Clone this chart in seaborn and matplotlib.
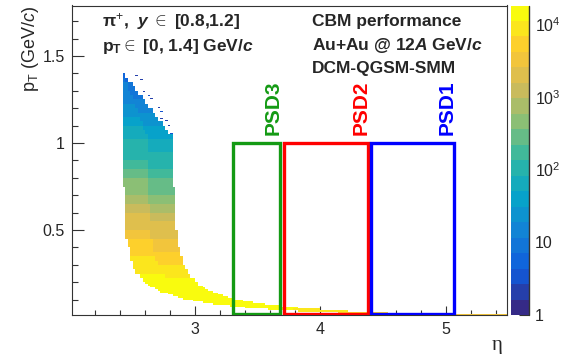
import numpy as np
import pandas as pd
import matplotlib
matplotlib.use("Agg")
import matplotlib.pyplot as plt
import seaborn as sns
from matplotlib.colors import LinearSegmentedColormap, LogNorm
from matplotlib.patches import Rectangle
from matplotlib.ticker import MultipleLocator, NullFormatter, LogLocator

# pT bands of the histogram (GeV/c), the eta range each band covers and the counts per cell
# (counts given separately for the low-eta and the high-eta half of every band)
row_pt_edges = [0.01, 0.02, 0.03, 0.04, 0.05, 0.06, 0.07, 0.08, 0.09, 0.10,
                0.11, 0.12, 0.13, 0.14, 0.15, 0.16, 0.17, 0.18, 0.19, 0.20,
                0.225, 0.25, 0.275, 0.30, 0.325, 0.35, 0.375, 0.40,
                0.45, 0.50, 0.55, 0.60, 0.65, 0.70, 0.75, 0.80, 0.85, 0.90, 0.95, 1.00,
                1.025, 1.05, 1.075, 1.10, 1.125, 1.15, 1.175, 1.20,
                1.225, 1.25, 1.275, 1.30, 1.325, 1.35, 1.375, 1.40]
row_eta_lo = [4.45, 4.14, 3.82, 3.58, 3.41, 3.27, 3.15, 3.06, 2.98,
              2.91, 2.86, 2.81, 2.77, 2.73, 2.70, 2.68, 2.65, 2.63, 2.61,
              2.59, 2.56, 2.53, 2.51, 2.50, 2.49, 2.48, 2.47,
              2.46, 2.45, 2.445, 2.44, 2.435, 2.43, 2.43, 2.425, 2.425, 2.42, 2.42, 2.42,
              2.415, 2.415, 2.415, 2.415, 2.415, 2.415, 2.415, 2.415,
              2.415, 2.415, 2.415, 2.415, 2.415, 2.415, 2.415, 2.415]
row_eta_hi = [5.50, 4.54, 4.22, 3.99, 3.81, 3.67, 3.56, 3.46, 3.38,
              3.32, 3.26, 3.21, 3.17, 3.14, 3.11, 3.08, 3.06, 3.03, 3.02,
              2.99, 2.96, 2.93, 2.915, 2.90, 2.89, 2.88, 2.87,
              2.86, 2.85, 2.845, 2.84, 2.835, 2.83, 2.83, 2.825, 2.825, 2.82, 2.82, 2.82,
              2.82, 2.81, 2.784, 2.758, 2.732, 2.706, 2.679, 2.653,
              2.627, 2.601, 2.574, 2.548, 2.522, 2.496, 2.469, 2.443]
row_counts_left = [3500, 6000, 9500, 12500, 14500, 15500, 16000, 16000, 16000,
                   16000, 16000, 15500, 15500, 15000, 15000, 14500, 14500, 14000, 14000,
                   14300, 12700, 11000, 9700, 8300, 7000, 6000, 5200,
                   5000, 3600, 2500, 1700, 1150, 770, 520, 360, 250, 180, 130, 96,
                   83, 71, 60, 51, 43, 36, 30, 25,
                   22, 18, 16, 14, 13, 12, 10, 9]
row_counts_right = [3000, 5000, 8000, 11000, 13500, 15000, 15500, 15500, 15500,
                    15500, 15500, 15000, 15000, 14500, 14500, 14000, 14000, 13500, 13000,
                    11400, 10100, 8800, 7700, 6600, 5600, 4800, 4100,
                    3400, 2400, 1700, 1100, 760, 510, 340, 240, 170, 120, 88, 64,
                    54, 46, 39, 33, 28, 23, 20, 17,
                    14, 12, 11, 9, 8, 8, 7, 6]

# isolated low-count cells above the high-pT edge
dot_eta = [2.53, 2.56, 2.59, 2.63, 2.65, 2.70, 2.72, 2.73, 2.76, 2.79, 2.81]
dot_pt = [1.385, 1.363, 1.296, 1.273, 1.258, 1.204, 1.181, 1.143, 1.125, 1.100, 1.050]
dot_counts = [2, 2, 2, 3, 2, 2, 3, 2, 2, 2, 3]

# PSD module acceptance
psd_names = ["PSD3", "PSD2", "PSD1"]
psd_eta_lo = [3.30, 3.705, 4.40]
psd_eta_hi = [3.68, 4.38, 5.065]
psd_pt_top = 1.0
psd_colors = ["#149a14", "#ff0000", "#0000ff"]

# ROOT kBird palette
bird = [(0.2082, 0.1664, 0.5293), (0.0592, 0.3599, 0.8684), (0.0780, 0.5041, 0.8385),
        (0.0232, 0.6419, 0.7914), (0.1802, 0.7178, 0.6425), (0.5301, 0.7492, 0.4662),
        (0.8186, 0.7328, 0.3499), (0.9956, 0.7862, 0.1968), (0.9764, 0.9832, 0.0539)]

eta_edges = np.round(np.arange(2.0, 5.5 + 1e-9, 0.02), 4)
pt_edges = np.round(np.arange(0.0, 1.8 + 1e-9, 0.005), 4)
eta_c = 0.5 * (eta_edges[:-1] + eta_edges[1:])
pt_c = 0.5 * (pt_edges[:-1] + pt_edges[1:])

# expand each band into histogram cells
parts = []
for i in range(len(row_counts_left)):
    lo, hi = row_eta_lo[i], row_eta_hi[i]
    ps = pt_c[(pt_c > row_pt_edges[i]) & (pt_c < row_pt_edges[i + 1])]
    es = eta_c[(eta_c >= lo) & (eta_c <= hi)]
    ee, pp = np.meshgrid(es, ps)
    ee, pp = ee.ravel(), pp.ravel()
    w = np.where(ee < 0.5 * (lo + hi), row_counts_left[i], row_counts_right[i])
    parts.append(pd.DataFrame({"eta": ee, "pt": pp, "w": w}))
parts.append(pd.DataFrame({"eta": dot_eta, "pt": dot_pt, "w": dot_counts}))
cells = pd.concat(parts, ignore_index=True)

sns.set_style("ticks", {"xtick.direction": "in", "ytick.direction": "in"})
plt.rcParams["font.family"] = ["Liberation Sans", "DejaVu Sans"]
plt.rcParams["mathtext.fontset"] = "custom"
plt.rcParams["mathtext.rm"] = "Liberation Sans"
plt.rcParams["mathtext.it"] = "Liberation Sans:italic"
plt.rcParams["mathtext.bf"] = "Liberation Sans:bold"
plt.rcParams["mathtext.bfit"] = "Liberation Sans:italic:bold"

fig = plt.figure(figsize=(5.67, 3.54), dpi=100)
ax = fig.add_axes([72 / 567, 39 / 354, 435 / 567, 309.5 / 354])
cax = fig.add_axes([511 / 567, 39 / 354, 18 / 567, 309.5 / 354])

cmap = LinearSegmentedColormap.from_list("bird", bird, N=20)
sns.histplot(data=cells, x="eta", y="pt", weights="w", bins=[eta_edges, pt_edges],
             cmap=cmap, norm=LogNorm(vmin=1, vmax=1.8e4), vmin=None, vmax=None,
             cbar=True, cbar_ax=cax, ax=ax)

ymin = 0.012
ax.set_xlim(2.015, 5.49)
ax.set_ylim(ymin, 1.79)

for name, lo, hi, col in zip(psd_names, psd_eta_lo, psd_eta_hi, psd_colors):
    ax.add_patch(Rectangle((lo, ymin + 0.006), hi - lo, psd_pt_top - ymin - 0.006,
                           fill=False, ec=col, lw=2.4, joinstyle="miter", zorder=5))
    ax.text(hi - 0.055, psd_pt_top + 0.045, name, rotation=90, ha="center", va="bottom",
            color=col, fontsize=15, fontweight="bold")

# axes cosmetics in ROOT style
ax.set_xticks([3, 4, 5], labels=["3", "4", "5"])
ax.set_yticks([0.5, 1.0, 1.5], labels=["0.5", "1", "1.5"])
ax.xaxis.set_minor_locator(MultipleLocator(0.2))
ax.yaxis.set_minor_locator(MultipleLocator(0.1))
ax.tick_params(axis="both", which="both", direction="in", top=False, right=False,
               labelsize=11.5, color="#333333", width=0.8, pad=5)
ax.tick_params(axis="x", which="major", length=6.5)
ax.tick_params(axis="x", which="minor", length=3.5)
ax.tick_params(axis="y", which="major", length=8.5)
ax.tick_params(axis="y", which="minor", length=4.5)
for s in ax.spines.values():
    s.set_linewidth(0.8)
    s.set_color("#333333")

ax.set_xlabel("η", fontsize=15, family=["Liberation Serif", "DejaVu Serif"])
ax.xaxis.label.set_ha("center")
ax.xaxis.label.set_va("center")
ax.xaxis.set_label_coords(0.977, -0.098)
ax.set_ylabel(r"p$_{\rm T}$ (GeV/$c$)", loc="top", fontsize=13, labelpad=1)

ax.text(0.068, 0.947, r"$\mathbf{\pi}^{+}$,  $\mathbfit{y}$ $\in$ [0.8,1.2]", transform=ax.transAxes,
        fontsize=12.5, fontweight="bold", va="center")
ax.text(0.068, 0.868, r"$\mathbf{p}_{\mathbf{T}}$$\in$ [0, 1.4] GeV/$\mathbfit{c}$",
        transform=ax.transAxes, fontsize=12.5, fontweight="bold", va="center")
ax.text(0.552, 0.947, "CBM performance", transform=ax.transAxes,
        fontsize=12.5, fontweight="bold", va="center")
ax.text(0.552, 0.870, r"Au+Au @ 12$\mathbfit{A}$ GeV/$\mathbfit{c}$", transform=ax.transAxes,
        fontsize=12.5, fontweight="bold", va="center")
ax.text(0.552, 0.795, "DCM-QGSM-SMM", transform=ax.transAxes,
        fontsize=12.5, fontweight="bold", va="center")

cb = ax.collections[0].colorbar
cb.outline.set_visible(False)
cb.set_ticks([1, 10, 100, 1000, 10000], labels=["1", "10", "$10^{2}$", "$10^{3}$", "$10^{4}$"])
cax.yaxis.set_minor_locator(LogLocator(base=10, subs=range(2, 10)))
cax.yaxis.set_minor_formatter(NullFormatter())
cax.tick_params(which="both", direction="in", right=True, left=False, color="#333333",
                labelsize=11.5, pad=4)
cax.tick_params(which="major", length=7)
cax.tick_params(which="minor", length=4)
cax.plot([1, 1], [0, 1], transform=cax.transAxes, color="#333333", lw=1, clip_on=False)

fig.savefig("out.png", dpi=100)
